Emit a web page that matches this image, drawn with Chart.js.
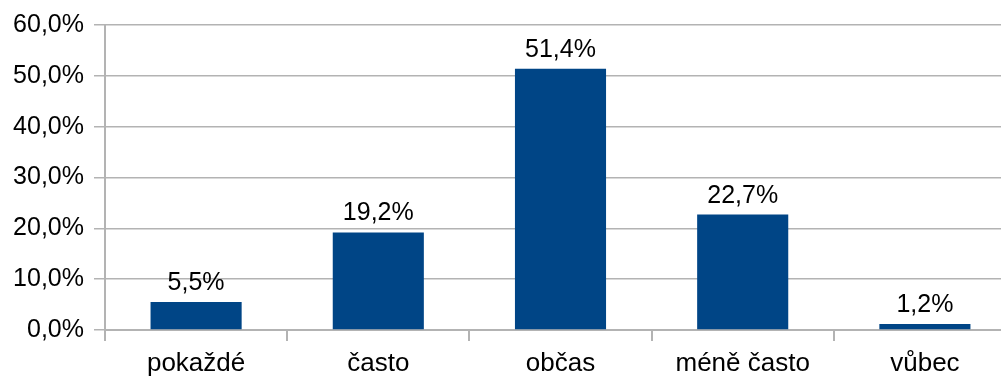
<!DOCTYPE html>
<html>
<head>
<meta charset="utf-8">
<script src="https://cdn.jsdelivr.net/npm/chart.js@4"></script>
<style>
  html, body { margin: 0; padding: 0; background: #fff; overflow: hidden; }
  canvas { display: block; }
</style>
</head>
<body>
<canvas id="chart" width="1016" height="376"></canvas>
<script>
  // Answers (share of respondents, %)
  const categories = ['pokaždé', 'často', 'občas', 'méně často', 'vůbec'];
  const values = [5.5, 19.2, 51.4, 22.7, 1.2];
  const yTicks = [0, 10, 20, 30, 40, 50, 60];

  const fmt = v => v.toFixed(1).replace('.', ',') + '%';
  const FONT = '"Liberation Sans", Arial, sans-serif';
  const gridColor = '#b3b3b3';

  // draws the value above each bar
  const barLabels = {
    id: 'barLabels',
    afterDatasetsDraw(chart) {
      const ctx = chart.ctx;
      const meta = chart.getDatasetMeta(0);
      ctx.save();
      ctx.font = '25px ' + FONT;
      ctx.fillStyle = '#000';
      ctx.textAlign = 'center';
      ctx.textBaseline = 'alphabetic';
      meta.data.forEach((bar, i) => {
        ctx.fillText(fmt(values[i]), bar.x, bar.y - 12);
      });
      ctx.restore();
    }
  };

  new Chart(document.getElementById('chart'), {
    type: 'bar',
    data: {
      labels: categories,
      datasets: [{
        data: values,
        backgroundColor: '#004586',
        borderWidth: 0,
        categoryPercentage: 0.5,
        barPercentage: 1
      }]
    },
    options: {
      responsive: false,
      animation: false,
      devicePixelRatio: 1,
      layout: { padding: { top: 25, right: 0, bottom: 0, left: 0 } },
      plugins: {
        legend: { display: false },
        tooltip: { enabled: false }
      },
      scales: {
        x: {
          grid: {
            offset: true,
            drawOnChartArea: false,
            drawTicks: true,
            tickLength: 11,
            color: gridColor,
            lineWidth: 2
          },
          border: { display: true, color: gridColor, width: 2 },
          ticks: { color: '#000', font: { family: FONT, size: 26 }, padding: 7, maxRotation: 0 },
          afterFit: s => { s.height = 46; }
        },
        y: {
          min: 0,
          max: 60,
          afterBuildTicks: s => { s.ticks = yTicks.map(v => ({ value: v })); },
          grid: { color: gridColor, lineWidth: 1.5, tickLength: 11 },
          border: { display: true, color: gridColor, width: 2 },
          ticks: {
            color: '#000',
            font: { family: FONT, size: 25 },
            padding: 10,
            callback: v => fmt(v)
          },
          afterFit: s => { s.width = 105; }
        }
      }
    },
    plugins: [barLabels]
  });
</script>
</body>
</html>
